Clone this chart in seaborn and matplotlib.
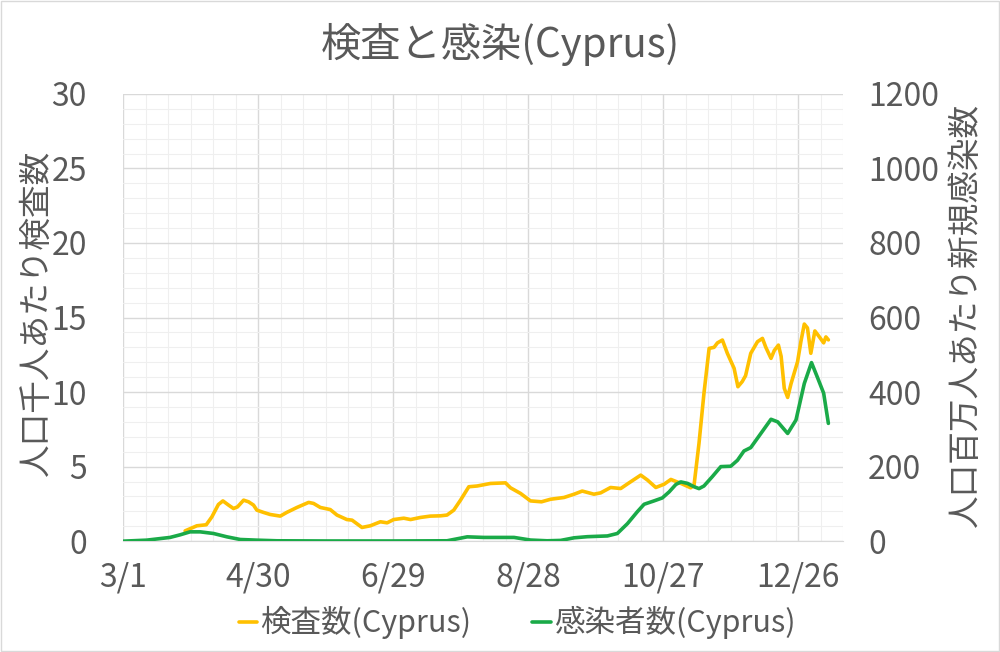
import matplotlib
matplotlib.use("Agg")
import matplotlib.pyplot as plt
import seaborn as sns
import pandas as pd
from matplotlib.ticker import MultipleLocator

# days since 2020-03-01
test_days = [27.6, 32.8, 37, 39.5, 42.4, 44.4, 46.9, 49.1, 50.9, 53.6, 55.8, 58, 59.5, 62.4,
             65.4, 69.9, 72.8, 77.3, 82.5, 84.7, 87.7, 92.1, 95.1, 99.5, 101.8, 106.2, 109.9,
             114.4, 117.4, 120.3, 124.8, 127.8, 132.2, 136.6, 141.1, 144, 147, 150, 153.7,
             157.4, 163.3, 170, 172.2, 176.7, 181.1, 186, 190, 196, 200.5, 204.1, 209.3, 212.3,
             216.7, 221.2, 224.9, 230.1, 233.1, 236.8, 240.5, 243.5, 248, 252.3, 253.8, 256,
             258.2, 260.5, 262.7, 264.2, 266.4, 268.6, 271.6, 273.3, 275.2, 276.7, 279, 282,
             284.2, 285.7, 288, 289.5, 291.3, 292.5, 293.9, 295.4, 296.9, 299.8, 301.3, 302.8,
             304.2, 305.7, 307.5, 309.5, 311.4, 312.4, 313.5]
test_vals = [0.69, 1.03, 1.1, 1.63, 2.46, 2.7, 2.42, 2.19, 2.3, 2.75, 2.64, 2.42, 2.08, 1.93,
             1.79, 1.68, 1.93, 2.26, 2.6, 2.53, 2.26, 2.12, 1.75, 1.45, 1.41, 0.92, 1.03,
             1.3, 1.23, 1.45, 1.54, 1.45, 1.59, 1.68, 1.7, 1.75, 2.08, 2.75, 3.65,
             3.7, 3.87, 3.91, 3.58, 3.2, 2.7, 2.64, 2.81, 2.93, 3.15, 3.36, 3.15, 3.24,
             3.6, 3.53, 3.91, 4.43, 4.1, 3.6, 3.82, 4.14, 3.87, 3.58, 3.76, 6.56,
             9.91, 12.93, 13.0, 13.3, 13.49, 12.6, 11.59, 10.36, 10.7, 11.1, 12.6, 13.38,
             13.6, 13.0, 12.26, 12.8, 13.15, 12.4, 10.25, 9.64, 10.56, 12.03, 13.4, 14.56,
             14.3, 12.6, 14.1, 13.7, 13.3, 13.7, 13.5]

case_days = [0, 10.5, 20.9, 25.4, 29.8, 34.3, 40.2, 46.2, 52.1, 59.5, 68.4, 90, 120, 144,
             153, 160.4, 173.8, 181.1, 188.5, 194.5, 200.5, 206.4, 215.3, 219.7, 224.2, 228.6,
             231.6, 236, 239.7, 242.7, 245.7, 247.9, 250.9, 253.8, 256, 258.2, 261.9, 265.7,
             270.1, 273.1, 276, 279, 283.5, 288, 291, 295.4, 299.1, 302.8, 306, 308.6, 311.4,
             313.5]
case_vals = [0, 2.7, 10, 17, 25, 25, 20.6, 11.6, 4.5, 2.7, 1, 0.5, 0.5, 1,
             11.6, 10, 10, 3, 1, 2, 9, 12, 14, 20.6, 47, 79,
             99, 108, 116, 132, 152, 159, 155, 146, 141, 148, 173, 200,
             201, 217, 242, 251, 289, 327, 320, 289, 325, 423, 479, 440, 397,
             316]

tick_days = [0, 60, 120, 180, 240, 300]
tick_labels = ["3/1", "4/30", "6/29", "8/28", "10/27", "12/26"]

tests = pd.DataFrame({"day": test_days, "val": test_vals})
cases = pd.DataFrame({"day": case_days, "val": case_vals})

sns.set_style("white")
plt.rcParams["font.family"] = ["Noto Sans CJK JP", "DejaVu Sans"]
txt = "#595959"
grid_major = "#d9d9d9"
grid_minor = "#efefef"
yellow = "#FFC000"
green = "#1AAA48"

fig = plt.figure(figsize=(10, 6.52), dpi=100)
ax = fig.add_axes([0.123, 0.170, 0.720, 0.686])
ax2 = ax.twinx()

sns.lineplot(data=tests, x="day", y="val", ax=ax, color=yellow, linewidth=2.6,
             label="検査数(Cyprus)", legend=False)
sns.lineplot(data=cases, x="day", y="val", ax=ax2, color=green, linewidth=2.6,
             label="感染者数(Cyprus)", legend=False)

ax.set_xlim(0, 320)
ax.set_ylim(0, 30)
ax2.set_ylim(0, 1200)
ax.set_xticks(tick_days)
ax.set_xticklabels(tick_labels)
ax.xaxis.set_minor_locator(MultipleLocator(10))
ax.yaxis.set_major_locator(MultipleLocator(5))
ax.yaxis.set_minor_locator(MultipleLocator(1))
ax2.yaxis.set_major_locator(MultipleLocator(200))

ax.grid(True, which="major", color=grid_major, linewidth=1.0)
ax.grid(True, which="minor", color=grid_minor, linewidth=0.8)
ax.set_axisbelow(True)
ax2.grid(False)

for a in (ax, ax2):
    for s in a.spines.values():
        s.set_visible(False)
    a.tick_params(which="both", length=0, labelsize=23, colors=txt, pad=8)
ax.spines["bottom"].set_visible(True)
ax.spines["bottom"].set_color(grid_major)
ax.tick_params(axis="x", pad=15)
ax.tick_params(axis="y", pad=26)
ax2.tick_params(axis="y", pad=18)

ax.set_xlabel("")
ax.set_ylabel("人口千人あたり検査数", fontsize=23.5, color=txt)
ax2.set_ylabel("人口百万人あたり新規感染数", fontsize=23.5, color=txt)
ax.yaxis.set_label_coords(-0.097, 0.51)
ax2.yaxis.set_label_coords(1.148, 0.505)

fig.suptitle("検査と感染(Cyprus)", fontsize=29, color=txt, y=0.965)

h1, l1 = ax.get_legend_handles_labels()
h2, l2 = ax2.get_legend_handles_labels()
fig.legend(h1 + h2, l1 + l2, loc="center", bbox_to_anchor=(0.517, 0.045), ncol=2,
           frameon=False, fontsize=22, labelcolor=txt, handlelength=0.6,
           handletextpad=0.1, columnspacing=2.0)

fig.patches.append(plt.Rectangle((0.001, 0.001), 0.998, 0.998, transform=fig.transFigure,
                                 fill=False, edgecolor="#d9d9d9", linewidth=1))

fig.savefig("out.png", dpi=100)
